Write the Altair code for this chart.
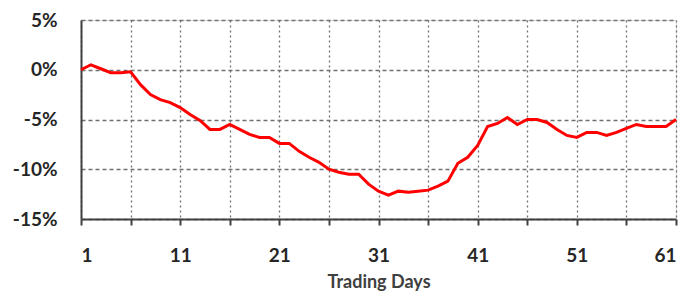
import altair as alt
import pandas as pd

days = list(range(1, 62))
returns = [
    0.0, 0.5, 0.1, -0.3, -0.3, -0.2, -1.5, -2.5, -3.0, -3.3,
    -3.8, -4.5, -5.1, -6.0, -6.0, -5.5, -6.0, -6.5, -6.8, -6.8,
    -7.4, -7.4, -8.2, -8.8, -9.3, -10.0, -10.3, -10.5, -10.5, -11.5,
    -12.2, -12.6, -12.2, -12.3, -12.2, -12.1, -11.7, -11.2, -9.4, -8.8,
    -7.6, -5.7, -5.4, -4.8, -5.5, -5.0, -5.0, -5.3, -6.0, -6.6,
    -6.8, -6.3, -6.3, -6.6, -6.3, -5.9, -5.5, -5.7, -5.7, -5.7,
    -5.0,
]
x_ticks = list(range(1, 62, 5))
y_ticks = [-15, -10, -5, 0, 5]

df = pd.DataFrame({"day": days, "ret": returns})

FONT = "Lato"

line = alt.Chart(df).mark_line(color="#FF0000", strokeWidth=3).encode(
    x=alt.X(
        "day:Q",
        scale=alt.Scale(domain=[1, 61], nice=False, zero=False),
        axis=alt.Axis(
            values=x_ticks,
            labelExpr="(datum.value - 1) % 10 == 0 ? datum.label : ''",
            title="Trading Days",
            titleFont=FONT, titleFontSize=18, titleFontWeight="bold", titleColor="#404040",
            titlePadding=8,
            labelFont=FONT, labelFontSize=19, labelFontWeight="bold", labelColor="#262626",
            labelPadding=21,
            tickSize=6, tickColor="#404040", tickWidth=2,
            domainColor="#404040", domainWidth=2,
            grid=True, gridColor="#707070", gridDash=[2, 3], gridWidth=1.3,
        ),
    ),
    y=alt.Y(
        "ret:Q",
        scale=alt.Scale(domain=[-15, 5], nice=False),
        axis=alt.Axis(
            values=y_ticks,
            labelExpr="datum.value + '%'",
            title=None,
            labelFont=FONT, labelFontSize=19, labelFontWeight="bold", labelColor="#262626",
            labelPadding=24,
            tickSize=0,
            domainColor="#404040", domainWidth=2,
            grid=True, gridColor="#707070", gridDash=[4, 3], gridWidth=1.3,
        ),
    ),
)

chart = line.properties(
    width=595,
    height=199,
    padding={"left": 73, "top": 12, "right": 7, "bottom": 76},
    autosize=alt.AutoSizeParams(type="none"),
).configure_view(stroke="#000000", strokeWidth=1.5).configure(background="white")

chart.save("out.html", embed_options={"renderer": "svg", "actions": False})
